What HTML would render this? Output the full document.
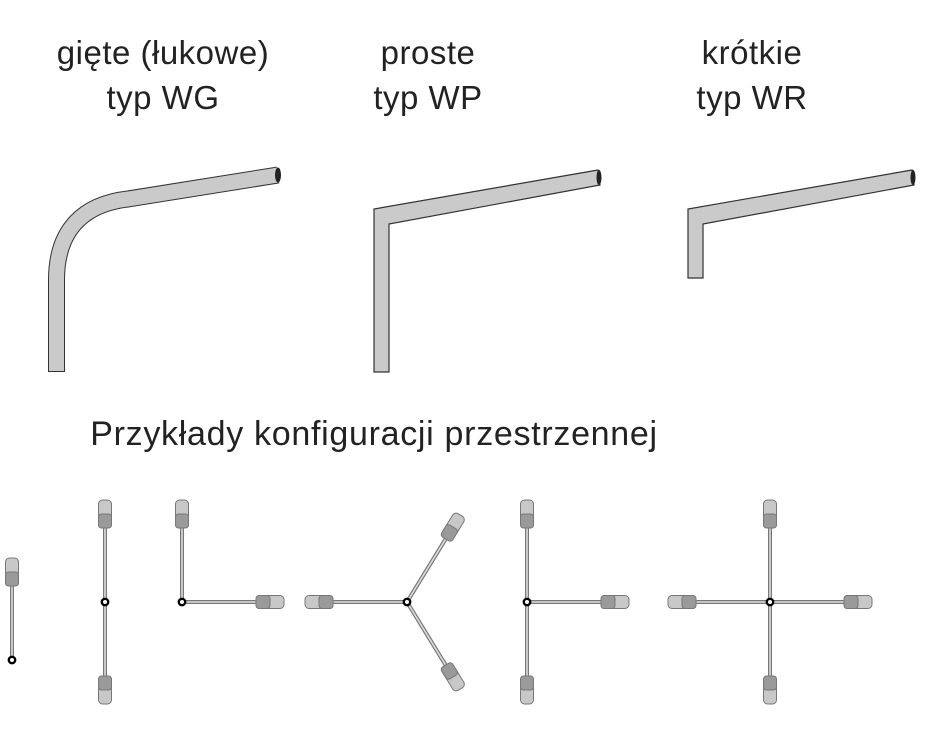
<!DOCTYPE html>
<html><head><meta charset="utf-8"><style>
body{margin:0;background:#fff;width:925px;height:736px;overflow:hidden}
svg{display:block}
text{font-family:"Liberation Sans",sans-serif;fill:#222}
</style></head><body>
<svg width="925" height="736" viewBox="0 0 925 736" xmlns="http://www.w3.org/2000/svg">
<defs>
<g id="lamp">
  <line x1="0" y1="0" x2="0" y2="-75" stroke="#777" stroke-width="4"/>
  <line x1="0" y1="0" x2="0" y2="-75" stroke="#ddd" stroke-width="1.6"/>
  <rect x="-6.5" y="-102" width="13" height="28" rx="4" fill="#c8c8c8" stroke="#777" stroke-width="1"/>
  <rect x="-6.5" y="-88" width="13" height="14" rx="3" fill="#9a9a9a" stroke="#777" stroke-width="1"/>
</g>
<g id="node"><circle r="3.2" fill="#fff" stroke="#000" stroke-width="2.4"/></g>
</defs>

<g font-size="33" text-anchor="middle" letter-spacing="0.5">
  <text x="163" y="64">gięte (łukowe)</text>
  <text x="163" y="109">typ WG</text>
  <text x="428" y="64">proste</text>
  <text x="428" y="109">typ WP</text>
  <text x="752" y="64">krótkie</text>
  <text x="752" y="109">typ WR</text>
  <text x="374" y="445" font-size="34" letter-spacing="0.7">Przykłady konfiguracji przestrzennej</text>
</g>

<!-- WG -->
<path d="M56.5,372 L56.5,280 C56.5,228 85,204 128,199 L278,175" fill="none" stroke="#333" stroke-width="17"/>
<path d="M56.5,371 L56.5,280 C56.5,228 85,204 128,199 L278,175" fill="none" stroke="#cacaca" stroke-width="15"/>
<ellipse cx="278" cy="175" rx="3" ry="7.5" fill="#222"/>
<!-- WP -->
<polygon points="374,372 374,209 598,170 600,185 389,224 389,372" fill="#cacaca" stroke="#333" stroke-width="1.2"/>
<ellipse cx="599" cy="177.5" rx="2.5" ry="7.5" fill="#222"/>
<!-- WR -->
<polygon points="688,278 688,209 912,170 914,185 703,224 703,278" fill="#cacaca" stroke="#333" stroke-width="1.2"/>
<ellipse cx="913" cy="177.5" rx="2.5" ry="7.5" fill="#222"/>

<!-- configs -->
<use href="#lamp" transform="translate(12,660)"/><use href="#node" transform="translate(12,660)"/>

<use href="#lamp" transform="translate(105,602)"/>
<use href="#lamp" transform="translate(105,602) rotate(180)"/>
<use href="#node" transform="translate(105,602)"/>

<use href="#lamp" transform="translate(182,602)"/>
<use href="#lamp" transform="translate(182,602) rotate(90)"/>
<use href="#node" transform="translate(182,602)"/>

<use href="#lamp" transform="translate(407,602) rotate(-90)"/>
<use href="#lamp" transform="translate(407,602) rotate(31.5)"/>
<use href="#lamp" transform="translate(407,602) rotate(148.5)"/>
<use href="#node" transform="translate(407,602)"/>

<use href="#lamp" transform="translate(527,602)"/>
<use href="#lamp" transform="translate(527,602) rotate(180)"/>
<use href="#lamp" transform="translate(527,602) rotate(90)"/>
<use href="#node" transform="translate(527,602)"/>

<use href="#lamp" transform="translate(770,602)"/>
<use href="#lamp" transform="translate(770,602) rotate(90)"/>
<use href="#lamp" transform="translate(770,602) rotate(180)"/>
<use href="#lamp" transform="translate(770,602) rotate(-90)"/>
<use href="#node" transform="translate(770,602)"/>
</svg>
</body></html>
